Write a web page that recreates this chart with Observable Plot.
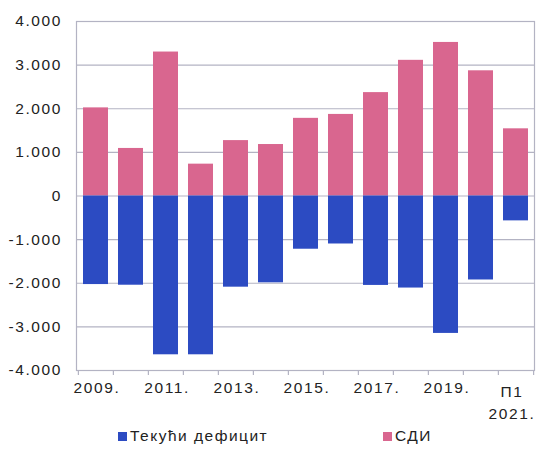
<!DOCTYPE html>
<html>
<head>
<meta charset="utf-8">
<script src="https://cdn.jsdelivr.net/npm/d3@7"></script>
<script src="https://cdn.jsdelivr.net/npm/@observablehq/plot@0.6"></script>
<style>
  html, body { margin: 0; padding: 0; background: #fff; }
  #chart { width: 539px; }
  .legend { position: relative; height: 26px; font-family: "Liberation Sans", Arial, sans-serif; font-size: 15.5px; letter-spacing: 1.5px; color: #222; }
  .item { position: absolute; top: 2px; display: flex; align-items: center; white-space: nowrap; }
  .sw { width: 9px; height: 9px; margin-right: 3px; display: inline-block; }
</style>
</head>
<body>
<div id="chart"></div>
<script>
const categories = ["2009", "2010", "2011", "2012", "2013", "2014", "2015", "2016", "2017", "2018", "2019", "2020", "П1 2021"];
const fdi = [2020, 1090, 3300, 730, 1270, 1180, 1780, 1870, 2370, 3110, 3520, 2870, 1540];
const deficit = [-2030, -2045, -3640, -3640, -2090, -1990, -1220, -1100, -2050, -2110, -3150, -1925, -570];
const yTicks = [-4000, -3000, -2000, -1000, 0, 1000, 2000, 3000, 4000];
const xLabeledYears = ["2009", "2011", "2013", "2015", "2017", "2019"];
const xLabeledLast = ["П1 2021"];
const seriesNames = ["Текући дефицит", "СДИ"];

const pink = "#D9668F";
const blue = "#2C4BC2";
const gridColor = "#B3B3C3";

const W = 539, H = 425, mL = 76, mR = 5, mT = 21, mB = 55;
const step = (W - mL - mR) / categories.length;
const frameH = H - mT - mB;

const table = categories.map((c, i) => ({cat: c, fdi: fdi[i], deficit: deficit[i]}));
const locale = d3.formatLocale({decimal: ",", thousands: ".", grouping: [3], minus: "-"});
const fmt = locale.format(",");
const xFmt = d => d === "П1 2021" ? "П1\n2021." : d + ".";

const chart = Plot.plot({
  width: W, height: H,
  marginLeft: mL, marginRight: mR, marginTop: mT, marginBottom: mB,
  style: {fontFamily: "'Liberation Sans', Arial, sans-serif", fontSize: "15.5px", letterSpacing: "1.6px", color: "#222", background: "#fff"},
  x: {domain: categories, paddingInner: 0.29, paddingOuter: 0.145, label: null},
  y: {domain: [-4000, 4000], label: null},
  marks: [
    Plot.ruleY(yTicks, {stroke: gridColor, strokeWidth: 1.2}),
    Plot.barY(table, {x: "cat", y: "fdi", fill: pink}),
    Plot.barY(table, {x: "cat", y: "deficit", fill: blue}),
    Plot.frame({stroke: gridColor, strokeWidth: 1.2}),
    Plot.ruleX(categories, {x: d => d, dx: -step / 2, dy: 5, insetTop: frameH - 5, stroke: gridColor, strokeWidth: 1.2}),
    Plot.ruleX(categories.slice(-1), {x: d => d, dx: step / 2, dy: 5, insetTop: frameH - 5, stroke: gridColor, strokeWidth: 1.2}),
    Plot.axisY({ticks: yTicks, tickSize: 0, tickPadding: 14.5, tickFormat: fmt, fontSize: 15.5}),
    Plot.axisX({ticks: xLabeledYears, tickSize: 0, tickPadding: 11, fontSize: 15.5, dx: 1, tickFormat: xFmt}),
    Plot.axisX({ticks: xLabeledLast, tickSize: 0, tickPadding: 11, fontSize: 15.5, lineHeight: 1.4, dx: -4, tickFormat: xFmt})
  ]
});
document.getElementById("chart").appendChild(chart);

const legend = document.createElement("div");
legend.className = "legend";
const positions = [118, 383];
const colors = [blue, pink];
seriesNames.forEach((name, i) => {
  const it = document.createElement("div");
  it.className = "item";
  it.style.left = positions[i] + "px";
  it.innerHTML = `<span class="sw" style="background:${colors[i]}"></span><span>${name}</span>`;
  legend.appendChild(it);
});
document.getElementById("chart").appendChild(legend);
</script>
</body>
</html>
